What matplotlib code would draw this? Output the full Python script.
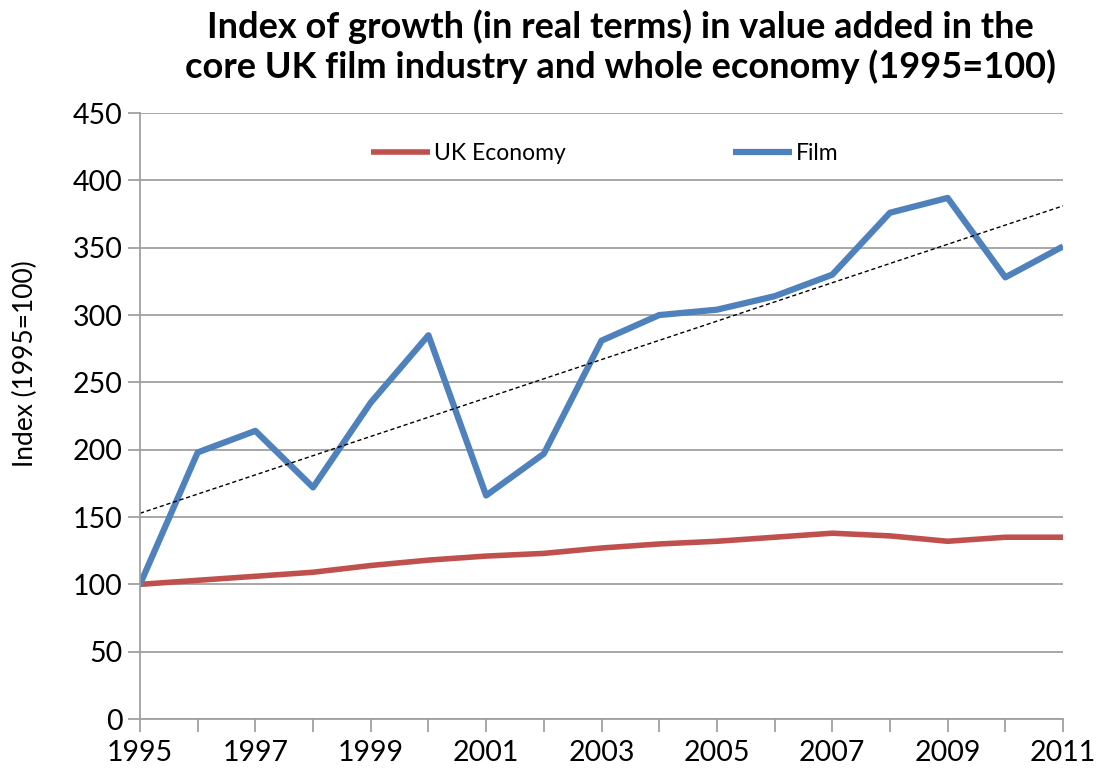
import numpy as np
import matplotlib
matplotlib.use("Agg")
import matplotlib.pyplot as plt

plt.rcParams["font.family"] = ["Lato", "DejaVu Sans"]

years = list(range(1995, 2012))
uk_economy = [100, 103, 106, 109, 114, 118, 121, 123, 127, 130, 132, 135, 138, 136, 132, 135, 135]
film = [100, 198, 214, 172, 235, 285, 166, 197, 281, 300, 304, 314, 330, 376, 387, 328, 351]
xtick_years = [1995, 1997, 1999, 2001, 2003, 2005, 2007, 2009, 2011]

fig = plt.figure(figsize=(11.05, 7.8), dpi=100)
ax = fig.add_axes([0.1267, 0.0782, 0.8353, 0.7768])

ax.plot(years, uk_economy, color="#c0504d", lw=4, label="UK Economy", solid_capstyle="butt")
ax.plot(years, film, color="#4f81bd", lw=4.5, label="Film", solid_capstyle="butt")

# linear trend of film series
coef = np.polyfit(years, film, 1)
ax.plot(years, np.polyval(coef, years), color="black", lw=1, ls=(0, (3, 2)))

ax.set_xlim(1995, 2011)
ax.set_ylim(0, 450)
ax.set_yticks(range(0, 451, 50))
ax.set_xticks(years)
ax.set_xticklabels([str(y) if y in xtick_years else "" for y in years])
ax.grid(axis="y", color="#a0a0a0", lw=1.3)
ax.set_axisbelow(True)

for s in ["top", "right"]:
    ax.spines[s].set_visible(False)
for s in ["left", "bottom"]:
    ax.spines[s].set_color("#a0a0a0")
    ax.spines[s].set_linewidth(1.3)

ax.tick_params(axis="both", colors="#a0a0a0", width=1.3, length=9, labelsize=20.5, labelcolor="black")
ax.tick_params(axis="x", pad=6)
ax.set_ylabel("Index (1995=100)", fontsize=19)
ax.yaxis.set_label_coords(-0.110, 0.587)

ax.legend(loc="upper left", bbox_to_anchor=(0.25, 0.95), ncol=2, frameon=False,
          fontsize=16.5, handlelength=2.6, handletextpad=0.15, columnspacing=7.3,
          borderpad=0, borderaxespad=0)

fig.text(0.5615, 0.988, "Index of growth (in real terms) in value added in the\ncore UK film industry and whole economy (1995=100)",
         ha="center", va="top", fontsize=26, fontweight="bold", linespacing=1.2)

fig.savefig("out.png", dpi=100)
